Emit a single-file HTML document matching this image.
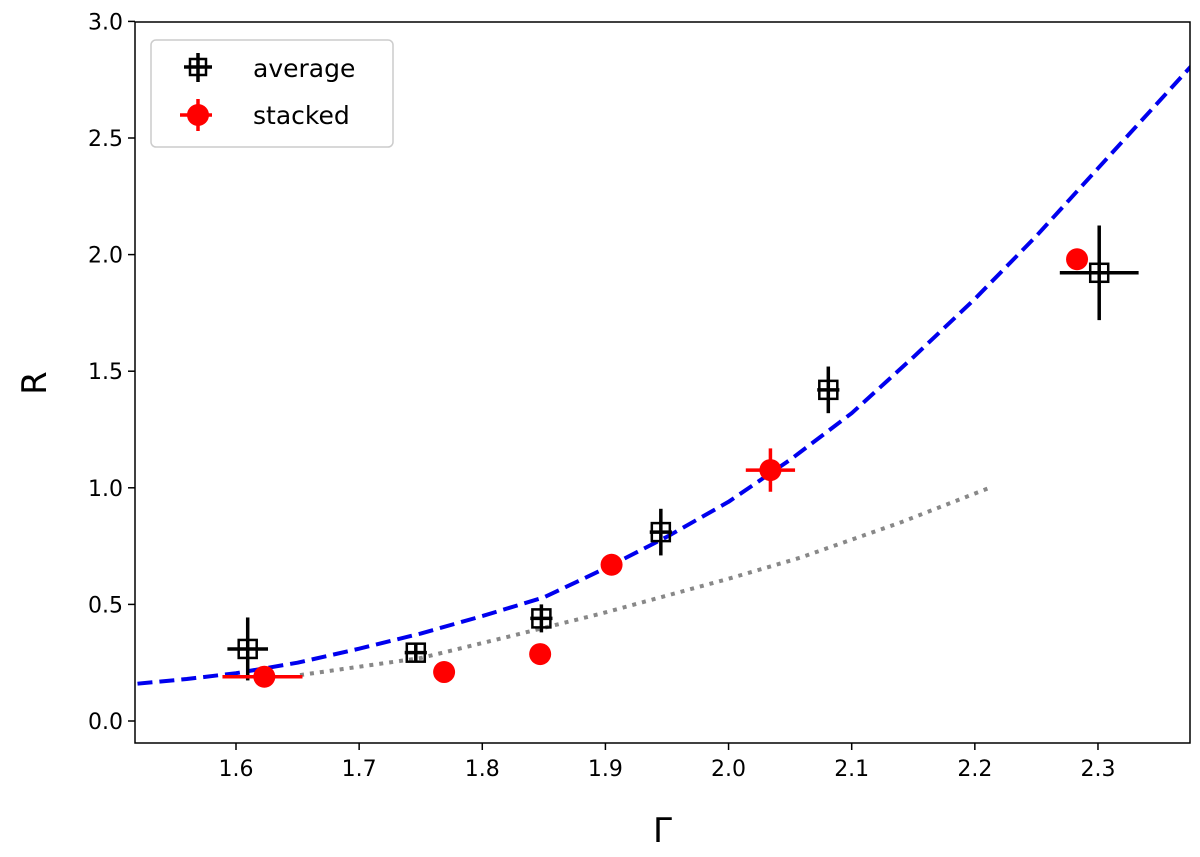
<!DOCTYPE html>
<html><head><meta charset="utf-8"><style>
body{margin:0;background:#fff}
svg text{font-family:"DejaVu Sans","Liberation Sans",sans-serif}
</style></head><body>
<svg id="chart" width="1200" height="852" xmlns="http://www.w3.org/2000/svg">
<g id="plot"></g>
</svg>
<script>
const xTicks=[1.6,1.7,1.8,1.9,2.0,2.1,2.2,2.3];
const yTicks=[0.0,0.5,1.0,1.5,2.0,2.5,3.0];
const curveX=[1.52,1.56,1.6,1.65,1.7,1.75,1.8,1.85,1.9,1.95,2.0,2.05,2.1,2.15,2.2,2.25,2.3,2.376];
const curveY=[0.16,0.18,0.205,0.25,0.31,0.375,0.45,0.53,0.655,0.79,0.94,1.12,1.32,1.56,1.81,2.08,2.37,2.81];
const dotX=[1.652,1.75,1.82,1.896,2.0,2.058,2.139,2.212];
const dotY=[0.197,0.27,0.36,0.46,0.61,0.70,0.85,1.0];
const avgX=[1.6095,1.746,1.848,1.945,2.081,2.301];
const avgY=[0.309,0.293,0.44,0.81,1.42,1.922];
const avgXerr=[0.0165,0,0,0,0,0.032];
const avgYerr=[0.135,0.04,0.06,0.1,0.1,0.203];
const stX=[1.623,1.769,1.847,1.905,2.034,2.283];
const stY=[0.19,0.21,0.287,0.67,1.076,1.98];
const stXerrL=[0.034,0,0,0,0.02,0];
const stXerrR=[0.031,0,0,0,0.02,0];
const stYerr=[0.03,0,0,0,0.093,0];
const L=135,R=1190,T=22,B=743;
const sx=v=>236+(v-1.6)*1231.4;
const sy=v=>721-v*233.2;
const g=document.getElementById('plot');
const NS='http://www.w3.org/2000/svg';
function mk(t,a,p){const e=document.createElementNS(NS,t);for(const k in a)e.setAttribute(k,a[k]);(p||g).appendChild(e);return e;}
const clip=mk('clipPath',{id:'cp'});mk('rect',{x:L,y:T,width:R-L,height:B-T},clip);
xTicks.forEach(v=>{
 const t=mk('line',{x1:sx(v),x2:sx(v),y1:B,y2:B+7,stroke:'#000','stroke-width':1.5});
 
 const l=mk('text',{x:sx(v),y:B+33,'text-anchor':'middle','font-size':22});l.textContent=v.toFixed(1);
 
});
yTicks.forEach(v=>{
 const t=mk('line',{x1:L-7,x2:L,y1:sy(v),y2:sy(v),stroke:'#000','stroke-width':1.5});
 
 const l=mk('text',{x:L-12,y:sy(v)+8,'text-anchor':'end','font-size':22});l.textContent=v.toFixed(1);
 
});
const cg=mk('g',{'clip-path':'url(#cp)'});
const dl=mk('polyline',{points:dotX.map((x,i)=>sx(x)+','+sy(dotY[i])).join(' '),fill:'none',stroke:'#888','stroke-width':4,'stroke-dasharray':'4 6'},cg);

const bl=mk('polyline',{points:curveX.map((x,i)=>sx(x)+','+sy(curveY[i])).join(' '),fill:'none',stroke:'#0000ee','stroke-width':4,'stroke-dasharray':'15 7','stroke-linejoin':'round'},cg);

avgX.forEach((x,i)=>{
 const cx=sx(x),cy=sy(avgY[i]);
 const gg=mk('g',{},cg);
 mk('line',{x1:cx,x2:cx,y1:sy(avgY[i]+avgYerr[i]),y2:sy(avgY[i]-avgYerr[i]),stroke:'#000','stroke-width':3.5},gg);
 mk('line',{x1:sx(x-Math.max(avgXerr[i],0.009)),x2:sx(x+Math.max(avgXerr[i],0.009)),y1:cy,y2:cy,stroke:'#000','stroke-width':3.5},gg);
 mk('rect',{x:cx-9,y:cy-9,width:18,height:18,fill:'none',stroke:'#000','stroke-width':2.5},gg);
});
stX.forEach((x,i)=>{
 const cx=sx(x),cy=sy(stY[i]);
 const gg=mk('g',{},cg);
 if(stYerr[i]>0)mk('line',{x1:cx,x2:cx,y1:sy(stY[i]+stYerr[i]),y2:sy(stY[i]-stYerr[i]),stroke:'red','stroke-width':3.5},gg);
 if(stXerrL[i]>0)mk('line',{x1:sx(x-stXerrL[i]),x2:sx(x+stXerrR[i]),y1:cy,y2:cy,stroke:'red','stroke-width':3.5},gg);
 mk('circle',{cx:cx,cy:cy,r:11,fill:'red'},gg);
});
const fr=mk('rect',{x:L,y:T,width:R-L,height:B-T,fill:'none',stroke:'#000','stroke-width':1.5});

const xl=mk('text',{x:(L+R)/2,y:842,'text-anchor':'middle','font-size':34});xl.textContent='Γ';

const yl=mk('text',{x:0,y:0,'text-anchor':'middle','font-size':34,transform:'translate(46,383) rotate(-90)'});yl.textContent='R';

const lg=mk('g',{});
mk('rect',{x:151,y:40,width:242,height:107,rx:5,fill:'#fff',stroke:'#ccc','stroke-width':1.5},lg);
const e1=mk('g',{},lg);
mk('line',{x1:198,x2:198,y1:53,y2:82,stroke:'#000','stroke-width':3.5},e1);
mk('line',{x1:184,x2:212,y1:67,y2:67,stroke:'#000','stroke-width':3.5},e1);
mk('rect',{x:190,y:59,width:16,height:16,fill:'none',stroke:'#000','stroke-width':2.5},e1);
const t1=mk('text',{x:253,y:77,'font-size':25},e1);t1.textContent='average';
const e2=mk('g',{},lg);
mk('line',{x1:198,x2:198,y1:99,y2:131,stroke:'red','stroke-width':3.5},e2);
mk('line',{x1:180,x2:212,y1:115,y2:115,stroke:'red','stroke-width':3.5},e2);
mk('circle',{cx:198,cy:115,r:11,fill:'red'},e2);
const t2=mk('text',{x:253,y:124,'font-size':25},e2);t2.textContent='stacked';
</script>
</body></html>
